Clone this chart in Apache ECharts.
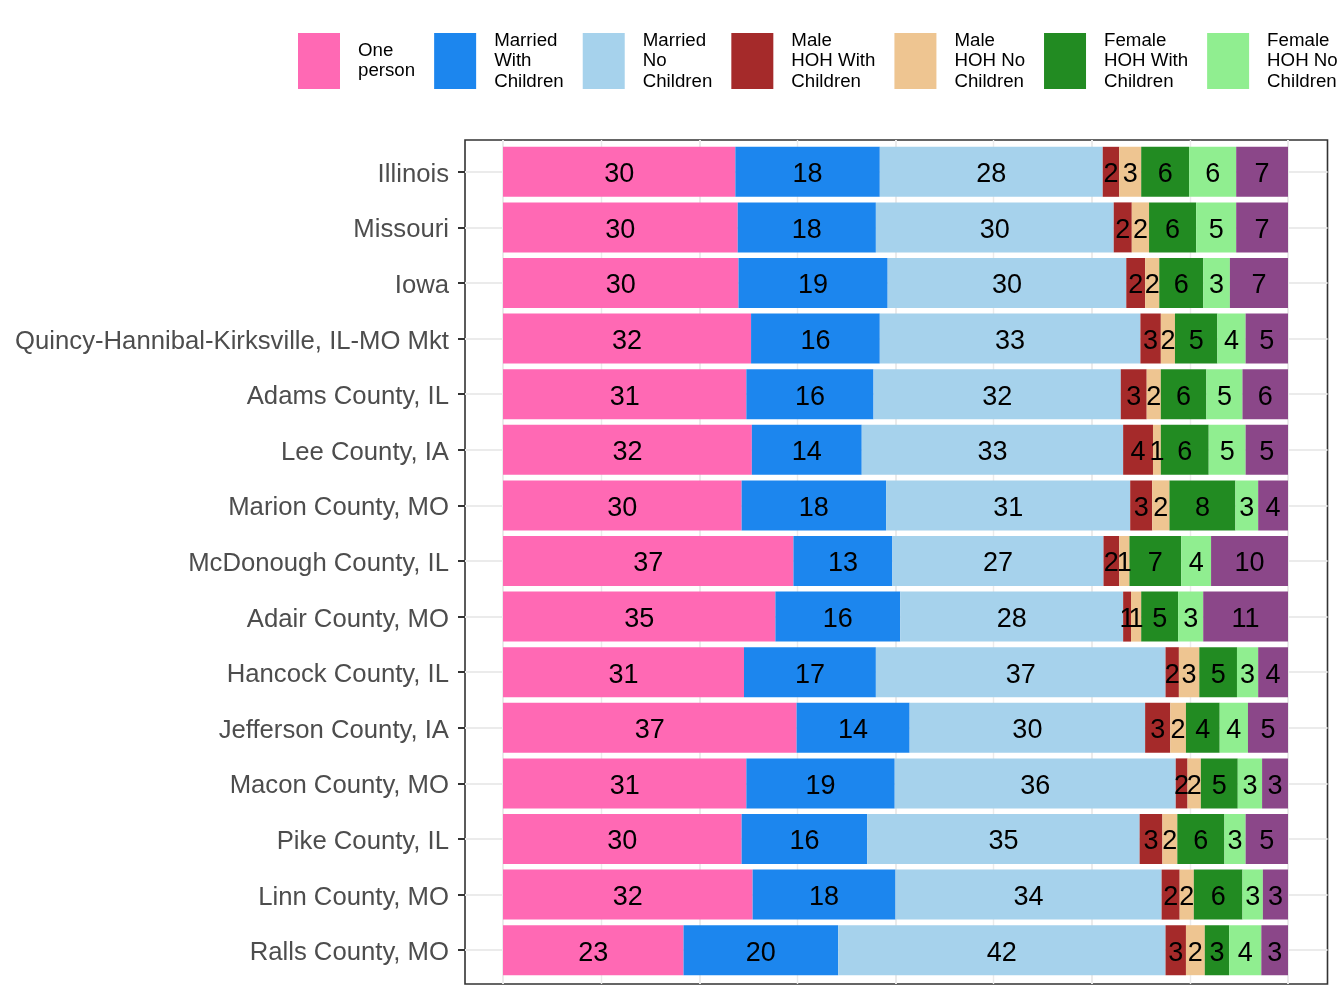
<!DOCTYPE html>
<html>
<head>
<meta charset="utf-8">
<script src="https://cdn.jsdelivr.net/npm/echarts@6/dist/echarts.min.js"></script>
<style>
  html, body { margin: 0; padding: 0; background: #fff; }
  #myEchartNode { width: 1344px; height: 1008px; }
</style>
</head>
<body>
<div id="myEchartNode"></div>
<script>
var places = ['Illinois', 'Missouri', 'Iowa', 'Quincy-Hannibal-Kirksville, IL-MO Mkt',
    'Adams County, IL', 'Lee County, IA', 'Marion County, MO', 'McDonough County, IL',
    'Adair County, MO', 'Hancock County, IL', 'Jefferson County, IA', 'Macon County, MO',
    'Pike County, IL', 'Linn County, MO', 'Ralls County, MO'];

// percent of households
var onePerson   = [29.6, 29.9, 30.0, 31.6, 31.0, 31.7, 30.4, 37.0, 34.7, 30.7, 37.4, 31.0, 30.4, 31.8, 23.0];
var marriedWith = [18.4, 17.6, 19.0, 16.4, 16.2, 14.0, 18.4, 12.6, 15.9, 16.8, 14.4, 18.9, 16.0, 18.2, 19.7];
var marriedNo   = [28.4, 30.3, 30.4, 33.2, 31.5, 33.3, 31.1, 26.9, 28.4, 36.9, 30.0, 35.8, 34.7, 33.9, 41.7];
var maleWith    = [2.1, 2.3, 2.4, 2.6, 3.3, 3.8, 2.8, 2.0, 1.0, 1.7, 3.2, 1.5, 2.9, 2.3, 2.6];
var maleNo      = [2.8, 2.2, 1.8, 1.8, 1.8, 1.0, 2.2, 1.3, 1.3, 2.6, 2.0, 1.7, 1.9, 1.8, 2.4];
var femaleWith  = [6.1, 6.0, 5.6, 5.4, 5.8, 6.1, 8.4, 6.6, 4.7, 4.8, 4.3, 4.7, 6.0, 6.2, 3.1];
var femaleNo    = [6.0, 5.1, 3.4, 3.6, 4.6, 4.7, 2.9, 3.8, 3.2, 2.7, 3.6, 3.1, 2.7, 2.6, 4.1];
var other       = [6.6, 6.6, 7.4, 5.4, 5.8, 5.4, 3.8, 9.8, 10.8, 3.8, 5.1, 3.3, 5.4, 3.2, 3.4];

var groupNames = ['One\nperson', 'Married\nWith\nChildren', 'Married\nNo\nChildren',
    'Male\nHOH With\nChildren', 'Male\nHOH No\nChildren', 'Female\nHOH With\nChildren',
    'Female\nHOH No\nChildren', 'Other'];
var groupColors = ['#FF69B4', '#1C86EE', '#A6D2EC', '#A52A2A', '#EEC591', '#228B22', '#90EE90', '#8B4789'];
var groupData = [onePerson, marriedWith, marriedNo, maleWith, maleNo, femaleWith, femaleNo, other];

var font = '"Liberation Sans", Arial, sans-serif';

// axis with nothing drawn
function blankAxis(idx, type) {
    return {
        gridIndex: idx, type: type, show: false,
        axisLine: { show: false }, axisTick: { show: false }, axisLabel: { show: false },
        splitLine: { show: false }, minorTick: { show: false }, minorSplitLine: { show: false }
    };
}

var series = groupNames.map(function (name, i) {
    return {
        name: name,
        type: 'bar',
        stack: 'total',
        xAxisIndex: 3,
        yAxisIndex: 3,
        barWidth: 50,
        itemStyle: { color: groupColors[i], borderWidth: 0 },
        label: {
            show: true,
            position: 'inside',
            offset: [0, 3],
            color: '#000',
            fontSize: 27,
            fontFamily: font,
            formatter: function (p) { return Math.round(p.value); }
        },
        emphasis: { disabled: true },
        data: groupData[i]
    };
});

var xGrid = blankAxis(1, 'value');
xGrid.show = true;
xGrid.min = 0;
xGrid.max = 100;
xGrid.interval = 25;
xGrid.splitLine = { show: true, lineStyle: { color: '#ebebeb', width: 2 } };
xGrid.minorTick = { show: false, splitNumber: 2 };
xGrid.minorSplitLine = { show: true, lineStyle: { color: '#ebebeb', width: 1.4 } };

var yNames = blankAxis(2, 'category');
yNames.show = true;
yNames.data = places;
yNames.inverse = true;
yNames.boundaryGap = false;
yNames.splitLine = { show: true, lineStyle: { color: '#ebebeb', width: 2 } };
yNames.axisTick = { show: true, inside: false, length: 7, lineStyle: { color: '#333', width: 2 } };
yNames.axisLabel = {
    show: true, margin: 16,
    formatter: function (v) { return '{n|' + v + '}'; },
    rich: { n: { color: '#4d4d4d', fontSize: 25.7, fontFamily: font, padding: [6, 0, 0, 0] } }
};

var xBars = blankAxis(3, 'value');
xBars.min = 0;
xBars.max = 100;
var yBars = blankAxis(3, 'category');
yBars.data = places;
yBars.inverse = true;

var myEchartObj = echarts.init(document.getElementById('myEchartNode'));
var option = {
    backgroundColor: '#fff',
    animation: false,
    legend: {
        data: groupNames,
        left: 298,
        top: 25.25,
        width: 3000,
        padding: 0,
        orient: 'horizontal',
        icon: 'rect',
        itemWidth: 42,
        itemHeight: 56,
        itemGap: 19,
        selectedMode: false,
        itemStyle: { borderWidth: 0 },
        textStyle: {
            color: '#000',
            fontSize: 18.7,
            lineHeight: 20.5,
            fontFamily: font,
            padding: [10, 0, 0, 13]
        }
    },
    grid: [
        // panel frame
        { left: 465, top: 140, width: 862.5, height: 844, show: true, borderColor: '#333', borderWidth: 1.6, backgroundColor: 'transparent', outerBoundsMode: 'none' },
        // vertical grid lines
        { left: 503, top: 140, width: 785, height: 844, outerBoundsMode: 'none' },
        // horizontal grid lines, ticks and names at the bar centres
        { left: 465, top: 171.8, width: 862.5, height: 778.4, outerBoundsMode: 'none' },
        // bars
        { left: 503, top: 144, width: 785, height: 834, outerBoundsMode: 'none' }
    ],
    xAxis: [blankAxis(0, 'value'), xGrid, blankAxis(2, 'value'), xBars],
    yAxis: [blankAxis(0, 'value'), blankAxis(1, 'value'), yNames, yBars],
    series: series
};
myEchartObj.setOption(option);
</script>
</body>
</html>
